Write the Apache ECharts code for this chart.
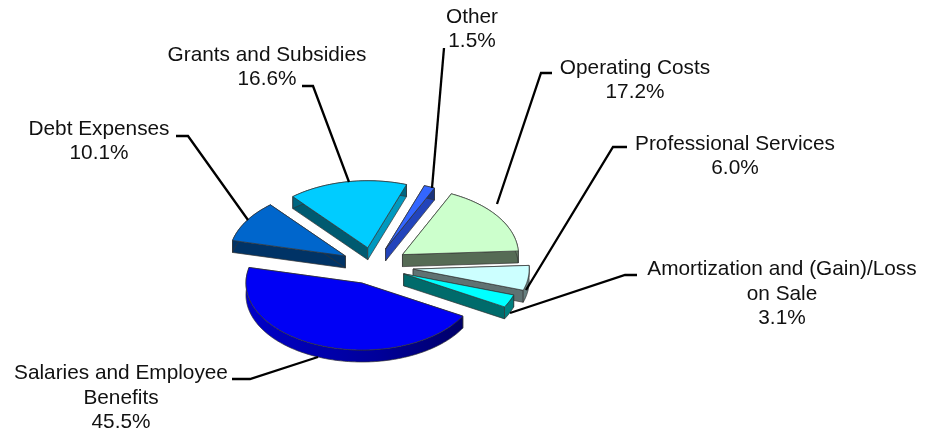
<!DOCTYPE html>
<html>
<head>
<meta charset="utf-8">
<style>html,body{margin:0;padding:0;background:#fff}#c{width:927px;height:434px}</style>
<script src="https://cdn.jsdelivr.net/npm/echarts@6/dist/echarts.min.js"></script>
</head>
<body>
<div id="c"></div>
<script>
const categories = ['Salaries and Employee\nBenefits','Debt Expenses','Grants and Subsidies','Other','Operating Costs','Professional Services','Amortization and (Gain)/Loss\non Sale'];
const values = [45.5, 10.1, 16.6, 1.5, 17.2, 6.0, 3.1];

const cfg = {
  cx: 373.5, cy: 266, rx: 116, ry: 67, depth: 12, startDeg: 29.6,
  explode: [31.5, 33, 32, 32, 35, 40, 33],
  top:   ['#0000F5','#0066CC','#00CCFF','#3366FF','#CCFFCC','#CCFFFF','#00FFFF'],
  edge0: ['#000080','#003366','#005A70','#1A337F','#667F66','#667F7F','#007F7F'],
  edge1: ['#000080','#003366','#0099BF','#2244BB','#566B55','#5F7272','#006B6B'],
  rim:   ['#0000A8','#003366','#006680','#1A337F','#667F66','#667F7F','#007F7F'],
  order: [2, 3, 1, 4, 5, 6, 0],
  labels: [[121,398],[99,141],[267,67],[472,29],[635,80],[735,156],[782,294]],
  leaders: [
    [[232,379],[250,379],[318,357]],
    [[176,136],[188,136],[248,220]],
    [[302,86],[313,86],[349,182]],
    [[444,48],[432,188]],
    [[552,73],[541,73],[497,204]],
    [[627,147],[613,147],[526,290]],
    [[637,275],[625,275],[510,313]]
  ]
};

const total = values.reduce((a, b) => a + b, 0);
const rad = d => d * Math.PI / 180;
function ranges() {
  let a = cfg.startDeg;
  return values.map(v => { const s = a; a += v / total * 360; return [s, a]; });
}
const angs = ranges();
const stroke = '#333333';

function sliceEls(i) {
  const [a0, a1] = angs[i];
  const mid = rad((a0 + a1) / 2), e = cfg.explode[i];
  const tx = cfg.cx + e * Math.cos(mid), ty = cfg.cy + e * 0.58 * Math.sin(mid);
  const P = a => [tx + cfg.rx * Math.cos(rad(a)), ty + cfg.ry * Math.sin(rad(a))];
  const arc = [];
  const n = Math.max(4, Math.ceil(a1 - a0));
  for (let k = 0; k <= n; k++) arc.push(P(a0 + (a1 - a0) * k / n));
  const down = p => [p[0], p[1] + cfg.depth];
  const poly = (points, fill) => ({ type: 'polygon', shape: { points }, style: { fill, stroke, lineWidth: 0.7 } });
  const rimFill = i === 0
    ? { type: 'linear', x: 0, y: 0, x2: 1, y2: 0, colorStops: [{ offset: 0, color: '#0000C8' }, { offset: 0.6, color: '#00009A' }, { offset: 1, color: '#000068' }] }
    : cfg.rim[i];
  return [
    poly([[tx, ty], arc[0], down(arc[0]), [tx, ty + cfg.depth]], cfg.edge0[i]),
    poly([[tx, ty], arc[n], down(arc[n]), [tx, ty + cfg.depth]], cfg.edge1[i]),
    poly(arc.concat(arc.slice().reverse().map(down)), rimFill),
    poly([[tx, ty]].concat(arc), cfg.top[i])
  ];
}

const chart = echarts.init(document.getElementById('c'), null, { renderer: 'canvas' });
chart.setOption({
  animation: false,
  backgroundColor: '#ffffff',
  xAxis: { show: false }, yAxis: { show: false },
  series: [{
    type: 'custom',
    coordinateSystem: 'none',
    silent: true,
    data: cfg.order.map(i => [i, values[i]]),
    renderItem: function (params, api) {
      return { type: 'group', children: sliceEls(api.value(0)) };
    }
  }, {
    type: 'custom',
    coordinateSystem: 'none',
    silent: true,
    data: values.map((v, i) => [i, v]),
    renderItem: function (params, api) {
      const i = api.value(0);
      return {
        type: 'group',
        children: [
          { type: 'polyline', shape: { points: cfg.leaders[i] }, style: { fill: null, stroke: '#000', lineWidth: 2.3 } },
          { type: 'text', x: cfg.labels[i][0], y: cfg.labels[i][1],
            style: {
              text: categories[i] + '\n' + api.value(1).toFixed(1) + '%',
              fontFamily: '"Liberation Sans", Arial, sans-serif',
              fontSize: 20.8, lineHeight: 24.4, fill: '#111',
              align: 'center', verticalAlign: 'middle'
            } }
        ]
      };
    }
  }]
});
</script>
</body>
</html>
